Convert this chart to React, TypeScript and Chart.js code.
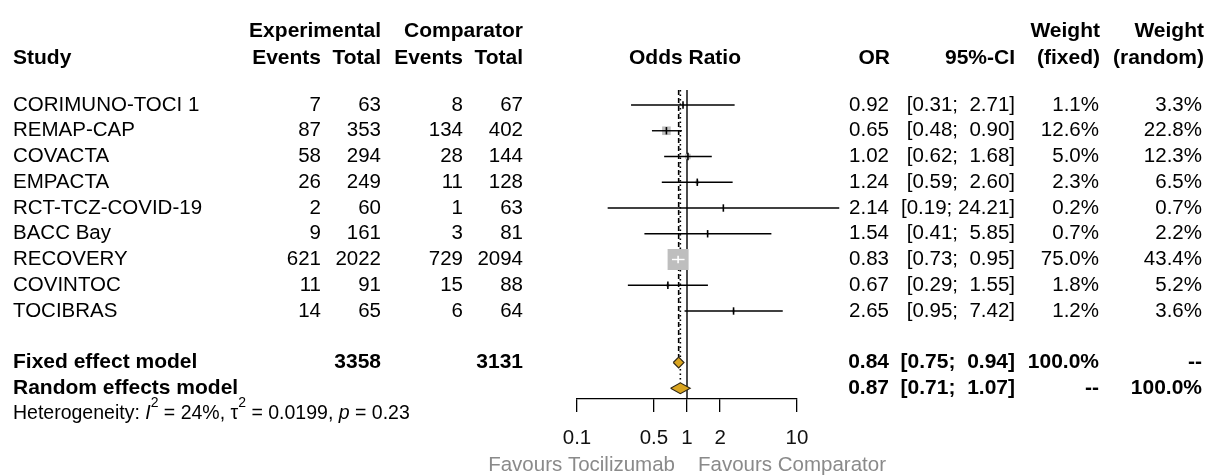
import React, { useEffect, useRef } from 'react';
import { Chart, registerables } from 'chart.js';

Chart.register(...registerables);

// ---------------- data ----------------
const studies = ['CORIMUNO-TOCI 1', 'REMAP-CAP', 'COVACTA', 'EMPACTA', 'RCT-TCZ-COVID-19', 'BACC Bay', 'RECOVERY', 'COVINTOC', 'TOCIBRAS'];
const expEvents = [7, 87, 58, 26, 2, 9, 621, 11, 14];
const expTotal = [63, 353, 294, 249, 60, 161, 2022, 91, 65];
const compEvents = [8, 134, 28, 11, 1, 3, 729, 15, 6];
const compTotal = [67, 402, 144, 128, 63, 81, 2094, 88, 64];
const oddsRatio = [0.92, 0.65, 1.02, 1.24, 2.14, 1.54, 0.83, 0.67, 2.65];
const ciLower = [0.31, 0.48, 0.62, 0.59, 0.19, 0.41, 0.73, 0.29, 0.95];
const ciUpper = [2.71, 0.9, 1.68, 2.6, 24.21, 5.85, 0.95, 1.55, 7.42];
const weightFixed = [1.1, 12.6, 5.0, 2.3, 0.2, 0.7, 75.0, 1.8, 1.2];
const weightRandom = [3.3, 22.8, 12.3, 6.5, 0.7, 2.2, 43.4, 5.2, 3.6];

const modelLabels = ['Fixed effect model', 'Random effects model'];
const modelExpTotal = ['3358', ''];
const modelCompTotal = ['3131', ''];
const modelOR = [0.84, 0.87];
const modelLower = [0.75, 0.71];
const modelUpper = [0.94, 1.07];
const modelWeightFixed = ['100.0%', '--'];
const modelWeightRandom = ['--', '100.0%'];

const hetI2 = '24%';
const hetTau2 = '0.0199';
const hetP = '0.23';

const xTicks = [0.1, 0.5, 1, 2, 10];
const favourLeft = 'Favours Tocilizumab';
const favourRight = 'Favours Comparator';

// ---------------- layout / style ----------------
const W = 1207;
const H = 475;
const FONT = "'Liberation Sans', Arial, Helvetica, sans-serif";
const REG = 20.5;
const BOLD = 21;
const studyRows = studies.map((_, i) => i);
const modelRows = [10, 11];
const hetRow = 12;
const favourRow = 14;
const headerRows = [-2.85, -1.83];
const REF_TOP = -0.58;
const AXIS_ROW = 11.417;
const DIAMOND_H = 0.21;
const SQUARE_MAX_SIDE = 21;
const DECADE_PX = 110;
const COL = { study: 13, expEv: 321, expTot: 381, compEv: 463, compTot: 523, or: 889, ci: 1015, wf: 1099, wr: 1202 };

const NB = '\u00A0';
const f2 = (v: number) => v.toFixed(2);
const pad5 = (s: string) => NB.repeat(Math.max(0, 5 - s.length)) + s;
const ciText = (lo: number, hi: number) => `[${f2(lo)};${NB}${pad5(f2(hi))}]`;
const pct = (v: number) => `${v.toFixed(1)}%`;

const maxW = Math.max(...weightFixed);
const squareSide = weightFixed.map((w) => SQUARE_MAX_SIDE * Math.sqrt(w / maxW));
const ciInside = studies.map((_, i) => DECADE_PX * Math.log10(ciUpper[i] / ciLower[i]) < squareSide[i]);

const textPlugin = {
  id: 'forestText',
  afterDraw(chart: any) {
    const { ctx } = chart;
    const xs = chart.scales.x;
    const ys = chart.scales.y;
    const ry = (r: number) => ys.getPixelForValue(r);
    const put = (s: string, px: number, r: number, align: CanvasTextAlign, bold = false, color = '#000', size?: number) => {
      ctx.font = `${bold ? 'bold ' : ''}${size ?? (bold ? BOLD : REG)}px ${FONT}`;
      ctx.fillStyle = color;
      ctx.textAlign = align;
      ctx.textBaseline = 'middle';
      ctx.fillText(s, px, ry(r));
    };
    ctx.save();
    // headers
    put('Experimental', COL.expTot, headerRows[0], 'right', true);
    put('Comparator', COL.compTot, headerRows[0], 'right', true);
    put('Weight', COL.wf + 1, headerRows[0], 'right', true);
    put('Weight', COL.wr + 2, headerRows[0], 'right', true);
    put('Study', COL.study, headerRows[1], 'left', true);
    put('Events', COL.expEv, headerRows[1], 'right', true);
    put('Total', COL.expTot, headerRows[1], 'right', true);
    put('Events', COL.compEv, headerRows[1], 'right', true);
    put('Total', COL.compTot, headerRows[1], 'right', true);
    put('Odds Ratio', xs.getPixelForValue(1) - 2, headerRows[1], 'center', true);
    put('OR', COL.or + 1, headerRows[1], 'right', true);
    put('95%-CI', COL.ci, headerRows[1], 'right', true);
    put('(fixed)', COL.wf + 1, headerRows[1], 'right', true);
    put('(random)', COL.wr + 2, headerRows[1], 'right', true);
    // studies
    studies.forEach((s, i) => {
      const r = studyRows[i];
      put(s, COL.study, r, 'left');
      put(String(expEvents[i]), COL.expEv, r, 'right');
      put(String(expTotal[i]), COL.expTot, r, 'right');
      put(String(compEvents[i]), COL.compEv, r, 'right');
      put(String(compTotal[i]), COL.compTot, r, 'right');
      put(f2(oddsRatio[i]), COL.or, r, 'right');
      put(ciText(ciLower[i], ciUpper[i]), COL.ci, r, 'right');
      put(pct(weightFixed[i]), COL.wf, r, 'right');
      put(pct(weightRandom[i]), COL.wr, r, 'right');
    });
    // models
    modelLabels.forEach((s, i) => {
      const r = modelRows[i];
      put(s, COL.study, r, 'left', true);
      if (modelExpTotal[i]) put(modelExpTotal[i], COL.expTot, r, 'right', true);
      if (modelCompTotal[i]) put(modelCompTotal[i], COL.compTot, r, 'right', true);
      put(f2(modelOR[i]), COL.or, r, 'right', true);
      put(ciText(modelLower[i], modelUpper[i]), COL.ci, r, 'right', true);
      put(modelWeightFixed[i], COL.wf, r, 'right', true);
      put(modelWeightRandom[i], COL.wr, r, 'right', true);
    });
    // heterogeneity
    const hs = 19.5;
    const ss = 14;
    const parts: [string, string, number][] = [
      ['Heterogeneity: ', `${hs}px ${FONT}`, 0],
      ['I', `italic ${hs}px ${FONT}`, 0],
      ['2', `${ss}px ${FONT}`, -11],
      [` = ${hetI2}, `, `${hs}px ${FONT}`, 0],
      ['\u03C4', `${hs}px ${FONT}`, 0],
      ['2', `${ss}px ${FONT}`, -11],
      [` = ${hetTau2}, `, `${hs}px ${FONT}`, 0],
      ['p', `italic ${hs}px ${FONT}`, 0],
      [` = ${hetP}`, `${hs}px ${FONT}`, 0],
    ];
    let cx = COL.study;
    const hy = ry(hetRow);
    ctx.textAlign = 'left';
    ctx.textBaseline = 'middle';
    ctx.fillStyle = '#000';
    for (const [s, f, dy] of parts) {
      ctx.font = f;
      ctx.fillText(s, cx, hy + dy);
      cx += ctx.measureText(s).width;
    }
    // favours labels
    const x1 = xs.getPixelForValue(1);
    put(favourLeft, x1 - 12, favourRow, 'right', false, '#8a8a8a');
    put(favourRight, x1 + 11, favourRow, 'left', false, '#8a8a8a');
    ctx.restore();
  },
};

function buildConfig(): any {
  const datasets: any[] = [];
  // reference lines
  datasets.push({
    data: [{ x: 1, y: REF_TOP }, { x: 1, y: AXIS_ROW }],
    showLine: true, borderColor: '#000', borderWidth: 1.4, pointRadius: 0, order: 9, clip: false,
  });
  datasets.push({
    data: [{ x: modelOR[0], y: REF_TOP }, { x: modelOR[0], y: modelRows[0] - DIAMOND_H }],
    showLine: true, borderColor: '#000', borderWidth: 1.6, borderDash: [5, 3], pointRadius: 0, order: 8, clip: false,
  });
  datasets.push({
    data: [{ x: modelOR[1], y: REF_TOP }, { x: modelOR[1], y: modelRows[1] - DIAMOND_H }],
    showLine: true, borderColor: '#000', borderWidth: 1.6, borderDash: [1.5, 3], pointRadius: 0, order: 7, clip: false,
  });
  // squares
  datasets.push({
    data: studies.map((_, i) => ({ x: oddsRatio[i], y: studyRows[i] })),
    pointStyle: 'rect',
    pointRadius: squareSide.map((s) => s / Math.SQRT2),
    pointBackgroundColor: '#BEBEBE',
    pointBorderWidth: 0,
    pointBorderColor: 'rgba(0,0,0,0)',
    order: 6, clip: false,
  });
  // confidence intervals
  studies.forEach((_, i) => {
    datasets.push({
      data: [{ x: ciLower[i], y: studyRows[i] }, { x: ciUpper[i], y: studyRows[i] }],
      showLine: true, borderColor: ciInside[i] ? '#fff' : '#000', borderWidth: 1.4, pointRadius: 0, order: 5, clip: false,
    });
  });
  // estimate ticks
  datasets.push({
    data: studies.map((_, i) => ({ x: oddsRatio[i], y: studyRows[i] })),
    pointStyle: 'line', rotation: 90, pointRadius: 3.7,
    pointBorderColor: studies.map((_, i) => (ciInside[i] ? '#fff' : '#000')),
    pointBorderWidth: 1.6, order: 4, clip: false,
  });
  // diamonds
  modelOR.forEach((est, i) => {
    const r = modelRows[i];
    datasets.push({
      data: [
        { x: modelLower[i], y: r },
        { x: est, y: r - DIAMOND_H },
        { x: modelUpper[i], y: r },
        { x: est, y: r + DIAMOND_H },
        { x: modelLower[i], y: r },
      ],
      showLine: true, fill: 'shape', backgroundColor: '#DAA520', borderColor: '#2e2615', borderWidth: 1.1,
      pointRadius: 0, order: 1, clip: false,
    });
  });

  return {
    type: 'scatter',
    data: { datasets },
    options: {
      animation: false,
      responsive: false,
      maintainAspectRatio: false,
      events: [],
      layout: { autoPadding: false, padding: { left: 577, right: W - 797, top: 2, bottom: 10.4 } },
      plugins: { legend: { display: false }, tooltip: { enabled: false } },
      scales: {
        x: {
          type: 'logarithmic',
          min: 0.1,
          max: 10,
          position: 'bottom',
          afterBuildTicks: (axis: any) => {
            axis.ticks = xTicks.map((v) => ({ value: v }));
          },
          ticks: {
            autoSkip: false, maxRotation: 0, minRotation: 0, padding: 14, color: '#111',
            font: { family: FONT, size: REG },
            callback: (v: any) => String(v),
          },
          grid: { display: true, drawOnChartArea: false, drawTicks: true, tickLength: 13, color: '#000', lineWidth: 1.3 },
          border: { display: true, color: '#000', width: 1.3 },
        },
        y: { type: 'linear', display: false, reverse: true, min: -4, max: AXIS_ROW },
      },
    },
    plugins: [textPlugin],
  };
}

export default function App() {
  const ref = useRef<HTMLCanvasElement>(null);
  useEffect(() => {
    const canvas = ref.current;
    if (!canvas) return;
    const chart = new Chart(canvas, buildConfig());
    return () => chart.destroy();
  }, []);
  return (
    <div style={{ position: 'absolute', left: 0, top: 0, width: W, height: H, background: '#fff' }}>
      <canvas ref={ref} width={W} height={H} style={{ display: 'block', width: W, height: H }} />
    </div>
  );
}
